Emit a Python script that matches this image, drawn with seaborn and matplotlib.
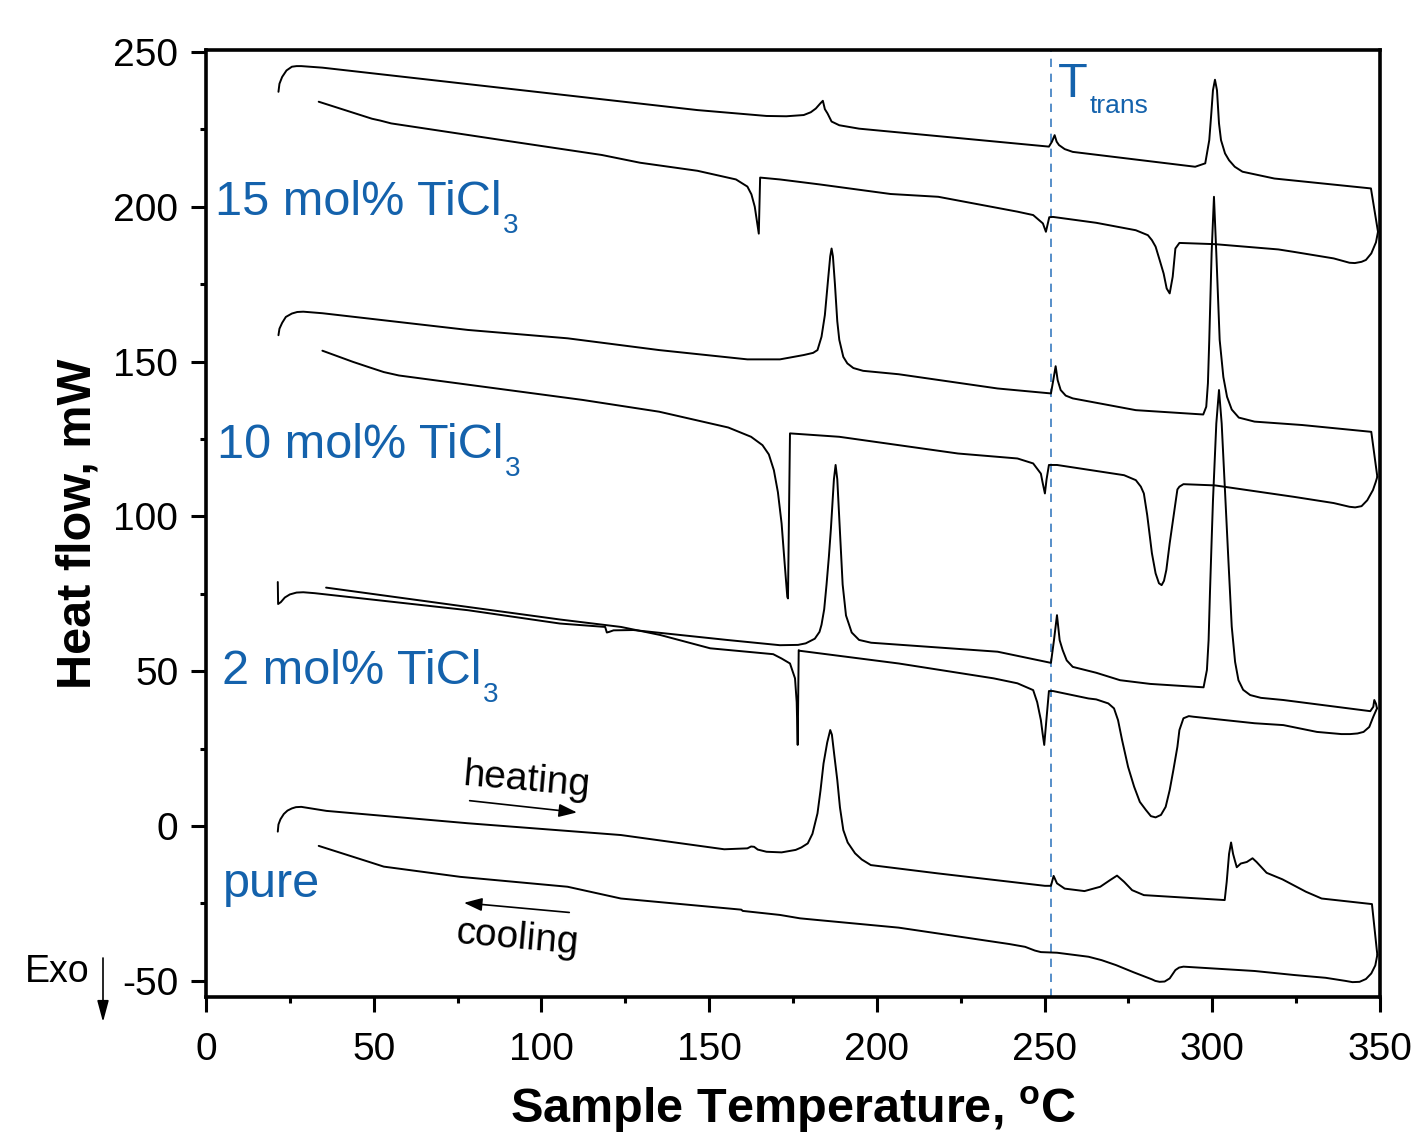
import matplotlib
matplotlib.use("Agg")
import matplotlib.pyplot as plt
from matplotlib.ticker import MultipleLocator
import seaborn as sns

# ---- DSC traces: temperature (°C) and heat flow (mW), in recording order ----
# pure
pure_heat_T = [21.4, 21.6, 22.2, 23.2, 24.3, 25.6, 26.8, 28.4, 35.9, 78.1, 123.7, 154.5, 161.4,
               162.5, 163.4, 164.5, 167.1, 171.6, 175.8, 177.5, 179.4, 180.8, 182.3, 183.2, 184.1,
               185.2, 186.1, 186.6, 187.3, 188.2, 189.0, 190.0, 191.3, 193.5, 195.5, 198.2, 218.3,
               250.1, 251.9, 252.7, 253.7, 256.0, 261.9, 266.6, 269.6, 271.6, 273.7, 276.1, 279.6,
               303.7, 304.3, 305.0, 305.6, 306.2, 306.7, 307.3, 308.5, 310.3, 312.0, 313.2, 316.2,
               320.9, 327.9, 332.6, 347.6, 349.2]
pure_heat_HF = [-1.8, 0.5, 2.2, 3.9, 5.0, 5.7, 6.1, 6.2, 4.9, 0.9, -2.9, -7.5, -7.2,
                -6.6, -6.7, -7.6, -8.3, -8.5, -7.7, -6.9, -5.6, -2.5, 4.1, 11.5, 20.2,
                27.0, 31.0, 29.5, 23.0, 14.9, 6.0, -1.3, -5.3, -8.8, -10.8, -12.6, -15.3,
                -19.3, -19.3, -16.1, -18.5, -20.2, -21.0, -19.6, -17.4, -16.0, -18.0, -20.7, -22.3,
                -23.9, -18.0, -9.0, -5.3, -9.0, -11.0, -13.3, -12.1, -11.6, -10.4, -11.6, -15.1,
                -17.2, -21.2, -23.4, -25.2, -41.6]
pure_cool_T = [349.2, 348.6, 347.4, 345.8, 343.9, 341.8, 339.7, 333.8, 324.4, 312.6, 291.4, 290.1,
               289.0, 287.3, 285.8, 284.3, 283.0, 282.0, 276.5, 271.3, 267.0, 263.1, 253.7, 248.9,
               247.1, 244.2, 239.5, 206.5, 182.9, 177.1, 171.1, 160.0, 159.6, 123.7, 107.8, 75.8,
               53.0, 48.4, 33.6]
pure_cool_HF = [-41.6, -45.0, -47.6, -49.4, -50.3, -50.4, -50.0, -49.0, -48.1, -46.8, -45.4, -45.7,
                -46.5, -49.2, -50.2, -50.3, -50.0, -49.5, -47.2, -44.9, -43.3, -42.2, -40.9, -40.7,
                -40.2, -39.0, -38.1, -32.8, -30.4, -29.8, -28.7, -27.4, -27.0, -23.4, -19.6, -16.4,
                -13.1, -11.5, -6.4]

# 2 mol% TiCl3
m2_heat_T = [21.4, 21.5, 22.3, 23.5, 25.0, 27.0, 29.0, 32.4, 78.1, 105.5, 119.0, 119.5, 120.2,
             121.5, 127.4, 155.3, 171.1, 176.5, 178.8, 181.5, 182.9, 183.5, 184.3, 185.0, 185.7,
             186.3, 187.2, 187.7, 188.2, 189.0, 189.8, 190.8, 192.5, 194.7, 198.3, 236.0, 251.9,
             252.8, 253.7, 254.5, 255.4, 256.6, 258.4, 265.4, 272.5, 281.5, 297.4, 298.4, 298.9,
             299.3, 299.8, 300.2, 301.2, 302.0, 302.8, 303.8, 304.8, 305.8, 306.8, 307.8, 309.2,
             311.3, 314.5, 321.2, 347.1, 348.0, 348.3, 348.8, 349.1]
m2_heat_HF = [78.8, 71.7, 72.3, 73.8, 74.8, 75.4, 75.5, 75.2, 69.7, 65.4, 64.3, 62.5, 62.7,
              63.2, 63.3, 60.1, 58.4, 58.5, 59.0, 60.5, 62.7, 65.0, 70.0, 78.0, 87.0,
              96.0, 112.0, 116.6, 112.0, 95.0, 78.0, 68.0, 62.5, 60.1, 59.2, 56.3, 52.7,
              60.0, 68.1, 60.0, 56.8, 53.5, 51.4, 49.5, 47.1, 45.9, 44.8, 50.4, 60.0,
              75.1, 92.0, 105.0, 130.0, 140.8, 130.0, 108.0, 85.9, 64.4, 53.0, 47.1, 44.0,
              42.3, 41.4, 40.7, 37.1, 38.5, 40.7, 39.5, 38.0]
m2_cool_T = [349.1, 348.0, 346.8, 345.1, 343.3, 341.1, 338.5, 331.2, 321.2, 312.6, 294.4, 293.0,
             291.4, 290.2, 289.6, 288.4, 287.3, 286.1, 284.7, 283.1, 281.7, 280.2, 278.4, 276.7,
             274.9, 273.1, 271.9, 270.7, 269.0, 265.4, 263.1, 252.5, 251.3, 250.6, 249.9, 249.4,
             248.9, 247.8, 246.6, 241.9, 234.8, 206.5, 177.0, 176.7, 176.4, 176.1, 175.6, 174.1,
             171.6, 169.1, 150.3, 135.4, 123.7, 105.5, 35.8]
m2_cool_HF = [38.0, 35.3, 32.0, 30.4, 29.9, 29.7, 29.7, 30.4, 32.6, 33.2, 35.3, 35.5,
              34.8, 31.0, 25.6, 18.1, 11.6, 6.2, 3.6, 2.8, 3.2, 5.2, 7.8, 12.7,
              19.1, 27.8, 34.2, 38.0, 39.6, 40.9, 41.2, 43.6, 43.6, 35.0, 26.2, 30.0,
              34.2, 40.0, 43.9, 46.1, 47.7, 52.5, 56.6, 56.8, 26.2, 40.0, 47.7, 52.5,
              54.1, 55.5, 57.4, 61.7, 64.3, 66.7, 77.0]

# 10 mol% TiCl3
m10_heat_T = [21.6, 21.9, 22.7, 23.8, 25.6, 27.2, 29.0, 34.7, 78.1, 107.8, 135.1, 161.4, 171.1,
              178.2, 181.0, 182.3, 183.5, 184.5, 185.5, 186.1, 186.5, 186.9, 187.5, 188.2, 188.8,
              190.0, 191.2, 193.0, 195.9, 206.5, 236.0, 251.9, 252.6, 253.3, 253.9, 254.8, 256.3,
              258.4, 277.2, 297.3, 298.2, 298.7, 299.1, 299.8, 300.5, 301.2, 302.2, 303.3, 304.4,
              305.8, 307.9, 312.6, 326.8, 347.4, 349.2]
m10_heat_HF = [158.5, 160.6, 162.5, 164.4, 165.5, 166.0, 166.1, 165.6, 160.2, 157.5, 153.7, 150.7, 150.7,
               152.1, 152.8, 153.7, 158.0, 165.0, 177.0, 184.0, 186.5, 184.0, 175.0, 163.0, 157.0,
               151.5, 149.4, 147.9, 147.0, 145.9, 141.3, 139.7, 144.0, 148.5, 144.0, 140.8, 139.0,
               138.1, 134.3, 132.9, 135.4, 143.0, 157.0, 185.0, 203.2, 185.0, 157.0, 145.0, 138.6,
               134.5, 131.9, 130.6, 129.5, 127.3, 112.8]
m10_cool_T = [349.2, 348.7, 347.9, 346.2, 344.5, 342.6, 340.9, 336.2, 324.4, 300.8, 291.4, 290.2,
              289.6, 289.0, 287.3, 286.3, 285.6, 284.9, 284.1, 283.1, 282.0, 281.4, 280.6, 279.6,
              278.7, 277.2, 273.7, 253.7, 251.3, 250.6, 250.1, 249.4, 248.9, 246.6, 241.9, 224.2,
              188.8, 174.1, 173.5, 173.3, 172.5, 171.6, 170.5, 169.3, 167.8, 165.9, 162.5, 155.7,
              135.1, 112.3, 57.5, 53.0, 48.5, 43.8, 34.7]
m10_cool_HF = [112.8, 111.0, 108.5, 105.2, 103.3, 102.9, 103.1, 104.3, 106.3, 110.0, 110.4, 109.6,
               108.7, 104.2, 91.3, 82.7, 79.2, 77.8, 78.4, 81.6, 88.1, 93.4, 100.4, 107.4,
               109.6, 111.7, 113.3, 116.6, 116.6, 112.0, 107.4, 111.0, 113.8, 117.1, 118.7, 120.3,
               125.7, 126.8, 73.5, 74.0, 85.0, 97.7, 107.8, 114.9, 120.0, 123.0, 125.7, 128.7,
               133.8, 137.6, 145.5, 146.6, 148.2, 149.9, 153.5]

# 15 mol% TiCl3
m15_heat_T = [21.6, 21.9, 22.7, 24.0, 25.6, 27.0, 28.4, 34.7, 89.4, 146.5, 167.1, 173.0, 178.2,
              180.3, 181.8, 183.1, 183.9, 184.5, 185.3, 186.5, 188.8, 194.7, 251.3, 252.2, 253.0,
              253.6, 254.3, 256.0, 258.4, 294.9, 297.9, 299.1, 299.7, 300.2, 300.8, 301.4, 302.0,
              302.6, 303.8, 305.0, 306.7, 309.0, 318.5, 347.3, 349.4]
m15_heat_HF = [237.1, 239.7, 241.9, 244.0, 245.2, 245.4, 245.4, 244.9, 238.2, 231.2, 229.3, 229.2, 229.6,
               230.5, 231.7, 233.3, 234.2, 231.5, 230.1, 227.5, 226.3, 225.2, 219.4, 221.0, 223.1,
               221.0, 219.9, 218.6, 217.7, 212.9, 214.0, 221.5, 230.0, 237.6, 241.0, 237.6, 226.9,
               221.5, 217.2, 215.0, 212.9, 211.3, 209.1, 205.9, 191.9]
m15_cool_T = [349.4, 348.8, 347.4, 345.8, 344.5, 342.5, 340.9, 336.2, 324.4, 319.7, 300.8, 290.2,
              289.0, 288.2, 287.3, 286.4, 285.5, 284.3, 283.1, 282.0, 280.8, 277.2, 265.4, 252.5,
              251.4, 250.4, 249.5, 246.6, 241.9, 218.3, 204.1, 182.9, 171.1, 165.2, 164.8, 163.6,
              162.6, 161.4, 158.0, 146.5, 129.4, 118.0, 89.5, 55.2, 52.0, 49.5, 33.6]
m15_cool_HF = [191.9, 188.5, 184.9, 182.8, 182.2, 181.8, 181.9, 183.3, 185.4, 186.2, 187.9, 188.3,
               186.5, 177.4, 172.0, 173.6, 178.4, 182.8, 187.1, 189.2, 190.8, 192.4, 194.8, 196.7,
               196.6, 191.9, 194.6, 197.3, 198.4, 203.2, 204.1, 207.2, 208.8, 209.4, 191.3, 200.0,
               204.0, 206.5, 208.8, 211.6, 214.2, 216.7, 221.3, 226.9, 227.8, 228.4, 233.9]

traces = [
    (pure_heat_T, pure_heat_HF), (pure_cool_T, pure_cool_HF),
    (m2_heat_T, m2_heat_HF), (m2_cool_T, m2_cool_HF),
    (m10_heat_T, m10_heat_HF), (m10_cool_T, m10_cool_HF),
    (m15_heat_T, m15_heat_HF), (m15_cool_T, m15_cool_HF),
]

sample_labels = ["pure", "2 mol% TiCl", "10 mol% TiCl", "15 mol% TiCl"]
sample_subs = [None, "3", "3", "3"]
label_T = [5.0, 4.8, 3.2, 2.6]
label_HF = [-22.9, 45.9, 118.8, 197.3]

T_trans = 252.0

BLUE = "#1462AC"

sns.set_style("ticks")
plt.rcParams["font.family"] = ["Liberation Sans", "DejaVu Sans"]
plt.rcParams["axes.unicode_minus"] = False
plt.rcParams["mathtext.fontset"] = "custom"
plt.rcParams["mathtext.rm"] = "Liberation Sans"
plt.rcParams["mathtext.bf"] = "Liberation Sans:bold"
plt.rcParams["text.color"] = "black"
plt.rcParams["axes.labelcolor"] = "black"
plt.rcParams["xtick.color"] = "black"
plt.rcParams["ytick.color"] = "black"
plt.rcParams["axes.edgecolor"] = "black"

fig = plt.figure(figsize=(14.12, 11.34), dpi=100)
ax = fig.add_axes([206 / 1412, 1 - 997 / 1134, (1380 - 206) / 1412, (997 - 50) / 1134])

for T, HF in traces:
    sns.lineplot(x=T, y=HF, sort=False, estimator=None, color="black", lw=1.4,
                 ax=ax, legend=False)

ax.axvline(T_trans, color="#3A7CC0", lw=1.2, ls=(0, (5, 4)), zorder=1)

ax.set_xlim(0, 350)
ax.set_ylim(-55.2, 250.6)
ax.xaxis.set_major_locator(MultipleLocator(50))
ax.xaxis.set_minor_locator(MultipleLocator(25))
ax.yaxis.set_major_locator(MultipleLocator(50))
ax.yaxis.set_minor_locator(MultipleLocator(25))
ax.tick_params(which="both", direction="out", width=2.2, labelsize=28, colors="black",
               top=False, right=False)
ax.tick_params(which="major", length=11)
ax.tick_params(which="minor", length=4.5)
ax.tick_params(axis="y", pad=9)
ax.tick_params(axis="x", pad=14)
for sp in ax.spines.values():
    sp.set_linewidth(2.6)
    sp.set_color("black")

ax.set_xlabel(r"Sample Temperature, $\mathbf{^{o}}$C", fontsize=35, fontweight="bold",
              color="black")
ax.set_ylabel("Heat flow, mW", fontsize=35, fontweight="bold", color="black")
ax.xaxis.set_label_coords(0.5, -0.093)
ax.yaxis.set_label_coords(-0.0895, 0.5)

# sample names with lowered subscripts
for name, sub, tx, ty in zip(sample_labels, sample_subs, label_T, label_HF):
    t = ax.text(tx, ty, name, color=BLUE, fontsize=35, ha="left", va="baseline")
    if sub:
        ax.annotate(sub, xy=(1, 0), xycoords=t, xytext=(1, -5.5), textcoords="offset points",
                    color=BLUE, fontsize=20, ha="left", va="baseline")

# transition temperature label
tt = ax.text(254.0, 235.4, "T", color=BLUE, fontsize=35, ha="left", va="baseline")
ax.annotate("trans", xy=(1, 0), xycoords=tt, xytext=(1, -4.5), textcoords="offset points",
            color=BLUE, fontsize=19, ha="left", va="baseline")

# heating / cooling direction arrows
arrow_kw = dict(arrowstyle="-|>,head_length=1.1,head_width=0.4", color="black", lw=1.2,
                shrinkA=0, shrinkB=0)
ax.annotate("", xy=(110.6, 4.4), xytext=(78.6, 8.2), arrowprops=arrow_kw)
ax.annotate("", xy=(76.9, -24.8), xytext=(108.3, -27.9), arrowprops=arrow_kw)
ax.text(95.4, 14.8, "heating", fontsize=28, rotation=-5, rotation_mode="anchor",
        ha="center", va="center", color="black")
ax.text(92.7, -36.2, "cooling", fontsize=28, rotation=-5, rotation_mode="anchor",
        ha="center", va="center", color="black")

# exothermic direction marker
fig.text(25 / 1412, 1 - 982 / 1134, "Exo", fontsize=27, ha="left", va="baseline",
         color="black")
ax.annotate("", xy=(103, 1134 - 1022), xytext=(103, 1134 - 958), xycoords="figure pixels",
            textcoords="figure pixels", annotation_clip=False,
            arrowprops=dict(arrowstyle="-|>,head_length=1.3,head_width=0.35", color="black",
                            lw=1.2, shrinkA=0, shrinkB=0))

fig.savefig("out.png", dpi=100)
